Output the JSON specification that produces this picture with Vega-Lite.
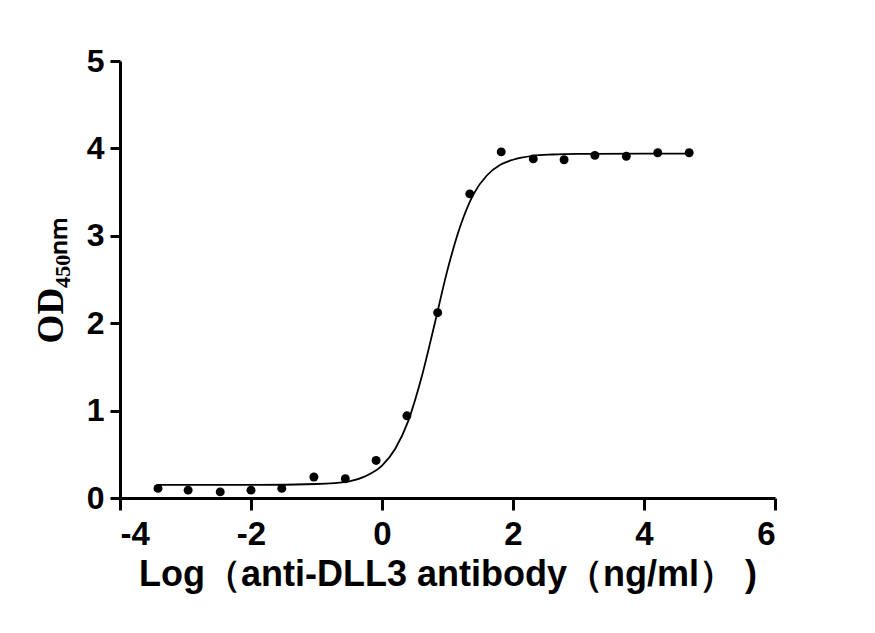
{
  "$schema": "https://vega.github.io/schema/vega-lite/v6.json",
  "autosize": "none",
  "padding": {"left": 120, "top": 61, "right": 100, "bottom": 135},
  "width": 655,
  "height": 437,
  "background": "white",
  "config": {
    "view": {"stroke": null},
    "font": "Liberation Sans"
  },
  "datasets": {
    "points": [
      {"logc": -3.42, "od": 0.11},
      {"logc": -2.96, "od": 0.09},
      {"logc": -2.47, "od": 0.07},
      {"logc": -2.0, "od": 0.09},
      {"logc": -1.53, "od": 0.11},
      {"logc": -1.04, "od": 0.24},
      {"logc": -0.56, "od": 0.22},
      {"logc": -0.09, "od": 0.43},
      {"logc": 0.38, "od": 0.94},
      {"logc": 0.85, "od": 2.12},
      {"logc": 1.34, "od": 3.48},
      {"logc": 1.82, "od": 3.96},
      {"logc": 2.31, "od": 3.88},
      {"logc": 2.78, "od": 3.87},
      {"logc": 3.25, "od": 3.92},
      {"logc": 3.73, "od": 3.91},
      {"logc": 4.21, "od": 3.95},
      {"logc": 4.69, "od": 3.95}
    ],
    "curve": [
      {"logc": -3.42, "od": 0.15},
      {"logc": -2.0, "od": 0.15},
      {"logc": -1.0, "od": 0.16},
      {"logc": -0.5, "od": 0.19},
      {"logc": -0.25, "od": 0.25},
      {"logc": 0.0, "od": 0.37},
      {"logc": 0.2, "od": 0.56},
      {"logc": 0.4, "od": 0.88},
      {"logc": 0.6, "od": 1.37},
      {"logc": 0.8, "od": 1.98},
      {"logc": 1.0, "od": 2.61},
      {"logc": 1.2, "od": 3.12},
      {"logc": 1.4, "od": 3.48},
      {"logc": 1.6, "od": 3.69},
      {"logc": 1.8, "od": 3.81},
      {"logc": 2.0, "od": 3.87},
      {"logc": 2.3, "od": 3.915},
      {"logc": 2.6, "od": 3.93},
      {"logc": 3.0, "od": 3.937},
      {"logc": 4.0, "od": 3.94},
      {"logc": 4.69, "od": 3.94}
    ]
  },
  "encoding": {
    "x": {
      "field": "logc",
      "type": "quantitative",
      "scale": {"domain": [-4, 6], "nice": false, "zero": false},
      "axis": {
        "values": [-4, -2, 0, 2, 4, 6],
        "labelExpr": "'' + datum.value",
        "grid": false,
        "domainColor": "black",
        "domainWidth": 3,
        "tickColor": "black",
        "tickWidth": 3,
        "tickSize": 12,
        "labelFont": "Liberation Sans",
        "labelFontWeight": "bold",
        "labelFontSize": 33,
        "labelColor": "black",
        "labelPadding": 8,
        "title": "Log（anti-DLL3 antibody（ng/ml）  )",
        "titleFont": "Liberation Sans",
        "titleFontWeight": "bold",
        "titleFontSize": 36,
        "titleColor": "black",
        "titlePadding": 6
      }
    },
    "y": {
      "field": "od",
      "type": "quantitative",
      "scale": {"domain": [0, 5], "nice": false},
      "axis": {
        "values": [0, 1, 2, 3, 4, 5],
        "grid": false,
        "domainColor": "black",
        "domainWidth": 3,
        "tickColor": "black",
        "tickWidth": 3,
        "tickSize": 10,
        "labelFont": "Liberation Sans",
        "labelFontWeight": "bold",
        "labelFontSize": 32,
        "labelColor": "black",
        "labelPadding": 6,
        "title": "OD₄₅₀ₙₘ",
        "titleFont": "Liberation Serif",
        "titleFontWeight": "bold",
        "titleFontSize": 37,
        "titleColor": "black",
        "titlePadding": 16
      }
    }
  },
  "layer": [
    {
      "data": {"name": "curve"},
      "mark": {"type": "line", "color": "black", "strokeWidth": 1.8, "interpolate": "monotone"}
    },
    {
      "data": {"name": "points"},
      "mark": {"type": "circle", "color": "black", "opacity": 1, "size": 80}
    }
  ]
}
